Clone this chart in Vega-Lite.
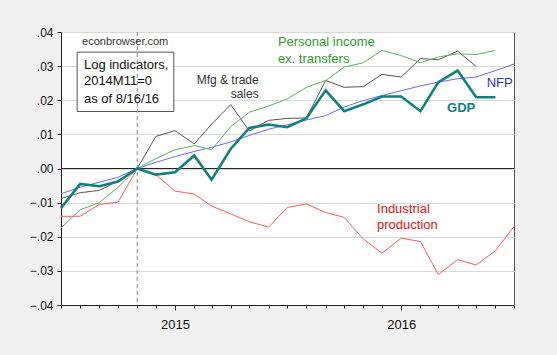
{
  "$schema": "https://vega.github.io/schema/vega-lite/v6.json",
  "width": 453,
  "height": 273,
  "autosize": {"type": "none"},
  "padding": {"left": 61, "top": 32, "right": 43, "bottom": 50},
  "background": "#f0f0f0",
  "config": {
    "view": {"fill": "white", "stroke": "#555555", "strokeWidth": 1},
    "font": "Liberation Sans",
    "axis": {"labelFont": "Liberation Sans", "domainColor": "#222222", "tickColor": "#222222", "labelColor": "#111111"}
  },
  "datasets": {
    "series": [
      {"d": "2014-07-01", "s": "GDP", "v": -0.0116}, {"d": "2014-08-01", "s": "GDP", "v": -0.0045}, {"d": "2014-09-01", "s": "GDP", "v": -0.0052}, {"d": "2014-10-01", "s": "GDP", "v": -0.0038}, {"d": "2014-11-01", "s": "GDP", "v": 0}, {"d": "2014-12-01", "s": "GDP", "v": -0.0018}, {"d": "2015-01-01", "s": "GDP", "v": -0.0011}, {"d": "2015-02-01", "s": "GDP", "v": 0.0038}, {"d": "2015-03-01", "s": "GDP", "v": -0.0033}, {"d": "2015-04-01", "s": "GDP", "v": 0.0058}, {"d": "2015-05-01", "s": "GDP", "v": 0.0119}, {"d": "2015-06-01", "s": "GDP", "v": 0.0129}, {"d": "2015-07-01", "s": "GDP", "v": 0.0121}, {"d": "2015-08-01", "s": "GDP", "v": 0.0147}, {"d": "2015-09-01", "s": "GDP", "v": 0.0229}, {"d": "2015-10-01", "s": "GDP", "v": 0.0168}, {"d": "2015-11-01", "s": "GDP", "v": 0.0188}, {"d": "2015-12-01", "s": "GDP", "v": 0.0211}, {"d": "2016-01-01", "s": "GDP", "v": 0.0211}, {"d": "2016-02-01", "s": "GDP", "v": 0.0168}, {"d": "2016-03-01", "s": "GDP", "v": 0.0253}, {"d": "2016-04-01", "s": "GDP", "v": 0.0287}, {"d": "2016-05-01", "s": "GDP", "v": 0.0209}, {"d": "2016-06-01", "s": "GDP", "v": 0.0209},
      {"d": "2014-07-01", "s": "NFP", "v": -0.0074}, {"d": "2014-08-01", "s": "NFP", "v": -0.0055}, {"d": "2014-09-01", "s": "NFP", "v": -0.0040}, {"d": "2014-10-01", "s": "NFP", "v": -0.0026}, {"d": "2014-11-01", "s": "NFP", "v": 0}, {"d": "2014-12-01", "s": "NFP", "v": 0.0018}, {"d": "2015-01-01", "s": "NFP", "v": 0.0035}, {"d": "2015-02-01", "s": "NFP", "v": 0.0050}, {"d": "2015-03-01", "s": "NFP", "v": 0.0062}, {"d": "2015-04-01", "s": "NFP", "v": 0.0078}, {"d": "2015-05-01", "s": "NFP", "v": 0.0097}, {"d": "2015-06-01", "s": "NFP", "v": 0.0115}, {"d": "2015-07-01", "s": "NFP", "v": 0.0128}, {"d": "2015-08-01", "s": "NFP", "v": 0.0142}, {"d": "2015-09-01", "s": "NFP", "v": 0.0155}, {"d": "2015-10-01", "s": "NFP", "v": 0.0180}, {"d": "2015-11-01", "s": "NFP", "v": 0.0199}, {"d": "2015-12-01", "s": "NFP", "v": 0.0214}, {"d": "2016-01-01", "s": "NFP", "v": 0.0228}, {"d": "2016-02-01", "s": "NFP", "v": 0.0242}, {"d": "2016-03-01", "s": "NFP", "v": 0.0253}, {"d": "2016-04-01", "s": "NFP", "v": 0.0263}, {"d": "2016-05-01", "s": "NFP", "v": 0.0268}, {"d": "2016-06-01", "s": "NFP", "v": 0.0287}, {"d": "2016-07-01", "s": "NFP", "v": 0.0306},
      {"d": "2014-07-01", "s": "Mfg", "v": -0.0088}, {"d": "2014-08-01", "s": "Mfg", "v": -0.0071}, {"d": "2014-09-01", "s": "Mfg", "v": -0.0064}, {"d": "2014-10-01", "s": "Mfg", "v": -0.0037}, {"d": "2014-11-01", "s": "Mfg", "v": 0}, {"d": "2014-12-01", "s": "Mfg", "v": 0.0094}, {"d": "2015-01-01", "s": "Mfg", "v": 0.0111}, {"d": "2015-02-01", "s": "Mfg", "v": 0.0072}, {"d": "2015-03-01", "s": "Mfg", "v": 0.0130}, {"d": "2015-04-01", "s": "Mfg", "v": 0.0187}, {"d": "2015-05-01", "s": "Mfg", "v": 0.0110}, {"d": "2015-06-01", "s": "Mfg", "v": 0.0141}, {"d": "2015-07-01", "s": "Mfg", "v": 0.0147}, {"d": "2015-08-01", "s": "Mfg", "v": 0.0148}, {"d": "2015-09-01", "s": "Mfg", "v": 0.0258}, {"d": "2015-10-01", "s": "Mfg", "v": 0.0238}, {"d": "2015-11-01", "s": "Mfg", "v": 0.0240}, {"d": "2015-12-01", "s": "Mfg", "v": 0.0276}, {"d": "2016-01-01", "s": "Mfg", "v": 0.0268}, {"d": "2016-02-01", "s": "Mfg", "v": 0.0322}, {"d": "2016-03-01", "s": "Mfg", "v": 0.0319}, {"d": "2016-04-01", "s": "Mfg", "v": 0.0344}, {"d": "2016-05-01", "s": "Mfg", "v": 0.0299},
      {"d": "2014-07-01", "s": "PI", "v": -0.0174}, {"d": "2014-08-01", "s": "PI", "v": -0.0121}, {"d": "2014-09-01", "s": "PI", "v": -0.0100}, {"d": "2014-10-01", "s": "PI", "v": -0.0055}, {"d": "2014-11-01", "s": "PI", "v": 0}, {"d": "2014-12-01", "s": "PI", "v": 0.0029}, {"d": "2015-01-01", "s": "PI", "v": 0.0055}, {"d": "2015-02-01", "s": "PI", "v": 0.0067}, {"d": "2015-03-01", "s": "PI", "v": 0.0055}, {"d": "2015-04-01", "s": "PI", "v": 0.0123}, {"d": "2015-05-01", "s": "PI", "v": 0.0165}, {"d": "2015-06-01", "s": "PI", "v": 0.0183}, {"d": "2015-07-01", "s": "PI", "v": 0.0204}, {"d": "2015-08-01", "s": "PI", "v": 0.0238}, {"d": "2015-09-01", "s": "PI", "v": 0.0258}, {"d": "2015-10-01", "s": "PI", "v": 0.0297}, {"d": "2015-11-01", "s": "PI", "v": 0.0310}, {"d": "2015-12-01", "s": "PI", "v": 0.0346}, {"d": "2016-01-01", "s": "PI", "v": 0.0331}, {"d": "2016-02-01", "s": "PI", "v": 0.0310}, {"d": "2016-03-01", "s": "PI", "v": 0.0327}, {"d": "2016-04-01", "s": "PI", "v": 0.0336}, {"d": "2016-05-01", "s": "PI", "v": 0.0334}, {"d": "2016-06-01", "s": "PI", "v": 0.0346},
      {"d": "2014-07-01", "s": "IP", "v": -0.0140}, {"d": "2014-08-01", "s": "IP", "v": -0.0140}, {"d": "2014-09-01", "s": "IP", "v": -0.0105}, {"d": "2014-10-01", "s": "IP", "v": -0.0099}, {"d": "2014-11-01", "s": "IP", "v": 0}, {"d": "2014-12-01", "s": "IP", "v": -0.0018}, {"d": "2015-01-01", "s": "IP", "v": -0.0066}, {"d": "2015-02-01", "s": "IP", "v": -0.0075}, {"d": "2015-03-01", "s": "IP", "v": -0.0110}, {"d": "2015-04-01", "s": "IP", "v": -0.0133}, {"d": "2015-05-01", "s": "IP", "v": -0.0156}, {"d": "2015-06-01", "s": "IP", "v": -0.0172}, {"d": "2015-07-01", "s": "IP", "v": -0.0114}, {"d": "2015-08-01", "s": "IP", "v": -0.0104}, {"d": "2015-09-01", "s": "IP", "v": -0.0129}, {"d": "2015-10-01", "s": "IP", "v": -0.0143}, {"d": "2015-11-01", "s": "IP", "v": -0.0207}, {"d": "2015-12-01", "s": "IP", "v": -0.0248}, {"d": "2016-01-01", "s": "IP", "v": -0.0204}, {"d": "2016-02-01", "s": "IP", "v": -0.0214}, {"d": "2016-03-01", "s": "IP", "v": -0.0311}, {"d": "2016-04-01", "s": "IP", "v": -0.0267}, {"d": "2016-05-01", "s": "IP", "v": -0.0283}, {"d": "2016-06-01", "s": "IP", "v": -0.0241}, {"d": "2016-07-01", "s": "IP", "v": -0.0170}
    ]
  },
  "encoding": {
    "x": {
      "field": "d", "type": "temporal", "title": null,
      "scale": {"type": "utc", "domain": [{"year": 2014, "month": 7, "date": 1, "utc": true}, {"year": 2016, "month": 7, "date": 1, "utc": true}], "nice": false},
      "axis": {
        "grid": false,
        "tickCount": {"interval": "month", "step": 1},
        "labelExpr": "utcmonth(datum.value) === 0 ? utcFormat(datum.value, '%Y') : ''",
        "labelOverlap": false, "labelFlush": false,
        "tickSize": {"condition": {"test": "utcmonth(datum.value) === 0", "value": 5}, "value": 3},
        "labelFontSize": 13, "labelPadding": 8
      }
    },
    "y": {
      "field": "v", "type": "quantitative", "title": null,
      "scale": {"domain": [-0.04, 0.04], "nice": false},
      "axis": {
        "values": [-0.04, -0.03, -0.02, -0.01, 0, 0.01, 0.02, 0.03, 0.04],
        "labelExpr": "replace(format(datum.value, '.2f'), '0.', '.')",
        "gridColor": "#d9d9d9", "gridWidth": 1, "tickSize": 4,
        "labelFontSize": 12, "labelPadding": 4
      }
    }
  },
  "layer": [
    {
      "data": {"values": [{"x1": "2014-07-27", "x2": "2014-12-30", "y1": 0.0341, "y2": 0.0167}]},
      "mark": {"type": "rect", "fill": "white", "stroke": "#555555", "strokeWidth": 1},
      "encoding": {
        "x": {"field": "x1", "type": "temporal"},
        "x2": {"field": "x2"},
        "y": {"field": "y1", "type": "quantitative"},
        "y2": {"field": "y2"}
      }
    },
    {
      "data": {"values": [{"v": 0}]},
      "mark": {"type": "rule", "color": "#222222", "strokeWidth": 1},
      "encoding": {"x": null, "y": {"field": "v", "type": "quantitative"}}
    },
    {
      "data": {"values": [{"d": "2014-11-01"}]},
      "mark": {"type": "rule", "color": "#888888", "strokeWidth": 1, "strokeDash": [4, 3]},
      "encoding": {"y": null, "x": {"field": "d", "type": "temporal"}}
    },
    {
      "data": {"name": "series"},
      "transform": [{"filter": "datum.s !== 'GDP'"}],
      "mark": {"type": "line", "strokeWidth": 1},
      "encoding": {
        "color": {"field": "s", "type": "nominal", "legend": null,
          "scale": {"domain": ["GDP", "NFP", "Mfg", "PI", "IP"], "range": ["#138080", "#6b6bff", "#555555", "#5cb35c", "#ff5a5a"]}},
        "detail": {"field": "s"}
      }
    },
    {
      "data": {"name": "series"},
      "transform": [{"filter": "datum.s === 'GDP'"}],
      "mark": {"type": "line", "strokeWidth": 2.6, "color": "#138080"},
      "encoding": {}
    },
    {
      "data": {"values": [{"t": "econbrowser.com", "d": "2014-08-04", "v": 0.0370}]},
      "mark": {"type": "text", "align": "left", "baseline": "middle", "fontSize": 11, "color": "#333333"},
      "encoding": {"text": {"field": "t"}}
    },
    {
      "data": {"values": [{"t": "Log indicators,", "d": "2014-08-07", "v": 0.0302}, {"t": "2014M11=0", "d": "2014-08-07", "v": 0.0255}, {"t": "as of 8/16/16", "d": "2014-08-07", "v": 0.0205}]},
      "mark": {"type": "text", "align": "left", "baseline": "middle", "fontSize": 13, "color": "#111111"},
      "encoding": {"text": {"field": "t"}}
    },
    {
      "data": {"values": [{"t": "Mfg & trade", "d": "2015-05-16", "v": 0.0258}, {"t": "sales", "d": "2015-05-16", "v": 0.0217}]},
      "mark": {"type": "text", "align": "right", "baseline": "middle", "fontSize": 12, "color": "#333333"},
      "encoding": {"text": {"field": "t"}}
    },
    {
      "data": {"values": [{"t": "Personal income", "d": "2015-06-16", "v": 0.0370}, {"t": "ex. transfers", "d": "2015-06-16", "v": 0.0322}]},
      "mark": {"type": "text", "align": "left", "baseline": "middle", "fontSize": 13, "color": "#2f9a2f"},
      "encoding": {"text": {"field": "t"}}
    },
    {
      "data": {"values": [{"t": "NFP", "d": "2016-05-18", "v": 0.0250}]},
      "mark": {"type": "text", "align": "left", "baseline": "middle", "fontSize": 13, "color": "#2a2aff"},
      "encoding": {"text": {"field": "t"}}
    },
    {
      "data": {"values": [{"t": "GDP", "d": "2016-03-15", "v": 0.0178}]},
      "mark": {"type": "text", "align": "left", "baseline": "middle", "fontSize": 13, "fontWeight": "bold", "color": "#138080"},
      "encoding": {"text": {"field": "t"}}
    },
    {
      "data": {"values": [{"t": "Industrial", "d": "2015-11-23", "v": -0.0118}, {"t": "production", "d": "2015-11-23", "v": -0.0167}]},
      "mark": {"type": "text", "align": "left", "baseline": "middle", "fontSize": 13, "color": "#ee1111"},
      "encoding": {"text": {"field": "t"}}
    }
  ]
}
